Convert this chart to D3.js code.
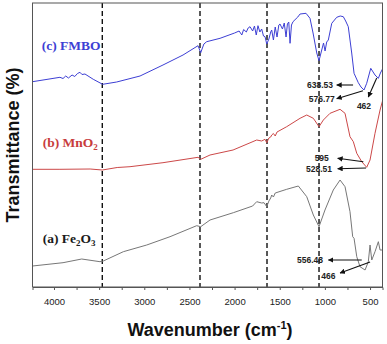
<!DOCTYPE html>
<html><head><meta charset="utf-8">
<script src="https://cdn.jsdelivr.net/npm/d3@7"></script>
<style>html,body{margin:0;padding:0;background:#fff;}svg{display:block;}</style>
</head><body>
<script>
// ---- data (wavenumber cm-1, relative transmittance) ----
const fmboWave = [4238,3934,3900,3870,3840,3800,3770,3740,3712,3690,3657,3565,3461,3306,3047,2793,2571,2405,2375,2340,2309,2161,2000,1950,1920,1900,1870,1850,1829,1800,1780,1760,1741,1720,1700,1680,1663,1644,1620,1600,1589,1570,1550,1530,1510,1497,1470,1450,1430,1415,1400,1386,1370,1353,1300,1275,1209,1165,1131,1090,1065,1035,1015,998,980,962,924,869,830,796,770,741,703,677,630,600,567,537,492,445,408,385,362];
const fmboT    = [205.3,209.7,208.5,211,209,212,210.5,213.5,214.7,212.5,213,207.7,202.7,205,211,222,232,241.3,234.3,243,245.3,248.7,254,256,252,257.5,255,259,260.3,256,261,252,261.3,255,258,251,250.3,243,248,255,257,247,260,250,262,263,258,264,250,263,265,243.7,262,265.3,270,273,273.7,268.7,254,234,226.3,237,244,236,245,247,263.7,269.7,271,270.3,266,260.3,234,213.7,204.3,200,197,203.7,218.7,212,208.7,214,218];

const mno2Wave = [4238,3934,3600,3465,3300,3158,2793,2405,2375,2272,2017,1755,1700,1663,1644,1620,1600,1589,1570,1550,1530,1423,1275,1201,1128,1065,1017,943,832,777,722,685,647,592,537,500,445,389,362];
const mno2T    = [117.7,117.7,118,117,119.5,120.3,124.3,129.7,127.7,132,137,147,146,147.7,144.3,149,150,152,153.5,151,155,160.3,168.7,172,168.7,160.3,167,173.7,177.7,173.7,150.3,145.3,133.7,125.3,119.7,127,153.7,177,186];

const fe2o3Wave = [4238,3900,3693,3491,3454,3232,2973,2715,2420,2375,2272,2014,1800,1780,1755,1700,1674,1644,1620,1600,1589,1570,1550,1423,1294,1201,1128,1065,999,907,832,777,722,692,677,647,611,555,519,500,481,445,408,389,362];
const fe2o3T    = [21,24.3,28,25.3,26,35.3,42,50.3,61.3,60.3,67,74.3,81,83,85.3,84,84.3,80.3,86,89,92,90,94,97.7,101,90.3,72,60.3,77,97,107,100.3,75.3,50.3,48.7,30.3,20.3,17,25.3,42,27,35.3,45.3,37,37];

const xTickValues = [4000,3750,3500,3250,3000,2750,2500,2250,2000,1750,1500,1250,1000,750,500];
const xTickLabels = ["4000","","3500","","3000","","2500","","2000","","1500","","1000","","500"];
const dashedWaves = [3465,2383,1641,1065];

const seriesNames = ["(c) FMBO","(b) MnO","(a) Fe"];
const seriesLabelPos = [[4136,237],[4125,140.3],[4125,43.7]];

// annotations: label, text position, arrow head, arrow tail
const annLabels = ["638.53","576.77","462","595","528.51","556.48","466"];
const annText   = [[1054,202],[1035,187.7],[567,181],[1035,128.7],[1065,117.7],[1165,27],[962,11]];
const annHead   = [[869,202],[869,188.3],[519,190],[858,128.7],[858,118.3],[962,27],[832,14]];
const annTail   = [[688,202],[578,196.3],[426,209],[574,125.3],[544,119],[592,27],[500,25]];

// ---- chart ----
const W = 387, H = 344;
const mL = 32.5, mR = 382.5, mT = 3, mB = 287;
const svg = d3.select("body").append("svg").attr("width", W).attr("height", H);

const x = d3.scaleLinear().domain([4238, 362]).range([mL, mR]);
const y = d3.scaleLinear().domain([0, 284]).range([mB, mT]);

const defs = svg.append("defs");
defs.append("marker").attr("id","ah").attr("viewBox","0 0 10 10").attr("refX",9).attr("refY",5)
  .attr("markerWidth",5).attr("markerHeight",5).attr("orient","auto")
  .append("path").attr("d","M0,0 L10,5 L0,10 z").attr("fill","#111");

// dashed guide lines
svg.selectAll("line.dash").data(dashedWaves).join("line").attr("class","dash")
  .attr("x1", d => x(d)).attr("x2", d => x(d))
  .attr("y1", mT).attr("y2", mB + 2)
  .attr("stroke","#111").attr("stroke-width",1.4).attr("stroke-dasharray","5,3");

// curves
const line = d3.line().x(d => x(d[0])).y(d => y(d[1]));
const series = [
  {w: fmboWave, t: fmboT, color: "#3d3fd4"},
  {w: mno2Wave, t: mno2T, color: "#cc4848"},
  {w: fe2o3Wave, t: fe2o3T, color: "#777777"}
];
series.forEach(s => {
  svg.append("path").datum(s.w.map((w,i) => [w, s.t[i]]))
    .attr("d", line).attr("fill","none").attr("stroke", s.color).attr("stroke-width",1);
});

// frame
svg.append("rect").attr("x", mL).attr("y", mT).attr("width", mR-mL).attr("height", mB-mT)
  .attr("fill","none").attr("stroke","#555").attr("stroke-width",1);

// x axis
const ax = svg.append("g").attr("transform", `translate(0,${mB})`)
  .call(d3.axisBottom(x).tickValues(xTickValues)
    .tickFormat((d,i) => xTickLabels[i]).tickSize(3).tickPadding(8));
ax.select(".domain").attr("stroke","#555");
ax.selectAll(".tick line").attr("stroke","#555");
ax.selectAll(".tick text").attr("font-family","Arial, 'Liberation Sans', sans-serif")
  .attr("font-size","9.5px").attr("fill","#222");

// axis titles
svg.append("text").attr("transform","translate(19,145) rotate(-90)")
  .attr("text-anchor","middle").attr("font-family","Arial, 'Liberation Sans', sans-serif")
  .attr("font-weight","bold").attr("font-size","18px").attr("fill","#111")
  .text("Transmittance (%)");
const xl = svg.append("text").attr("x",210).attr("y",336).attr("text-anchor","middle")
  .attr("font-family","Arial, 'Liberation Sans', sans-serif").attr("font-weight","bold")
  .attr("font-size","18px").attr("fill","#111");
xl.append("tspan").text("Wavenumber (cm");
xl.append("tspan").attr("font-size","11px").attr("dy","-7").text("-1");
xl.append("tspan").attr("dy","7").text(")");

// series labels
const serif = "'Times New Roman','Liberation Serif',serif";
const lab = (i, color) => svg.append("text").attr("x", x(seriesLabelPos[i][0])).attr("y", y(seriesLabelPos[i][1]))
  .attr("font-family", serif).attr("font-weight","bold").attr("font-size","13.5px").attr("fill", color);
lab(0, "#3d3fd4").text(seriesNames[0]);
const l2 = lab(1, "#c83c3c");
l2.append("tspan").text(seriesNames[1]);
l2.append("tspan").attr("font-size","9px").attr("dy","3").text("2");
const l3 = lab(2, "#1a1a1a");
l3.append("tspan").text(seriesNames[2]);
l3.append("tspan").attr("font-size","9px").attr("dy","3").text("2");
l3.append("tspan").attr("dy","-3").text("O");
l3.append("tspan").attr("font-size","9px").attr("dy","3").text("3");

// annotations
annLabels.forEach((t, i) => {
  svg.append("line")
    .attr("x1", x(annTail[i][0])).attr("y1", y(annTail[i][1]))
    .attr("x2", x(annHead[i][0])).attr("y2", y(annHead[i][1]))
    .attr("stroke","#111").attr("stroke-width",1.1).attr("marker-end","url(#ah)");
  svg.append("text").attr("x", x(annText[i][0])).attr("y", y(annText[i][1])).attr("dy","0.35em")
    .attr("text-anchor","middle").attr("font-family","Arial, 'Liberation Sans', sans-serif")
    .attr("font-weight","bold").attr("font-size","8.5px").attr("fill","#222").text(t);
});
</script>
</body></html>
